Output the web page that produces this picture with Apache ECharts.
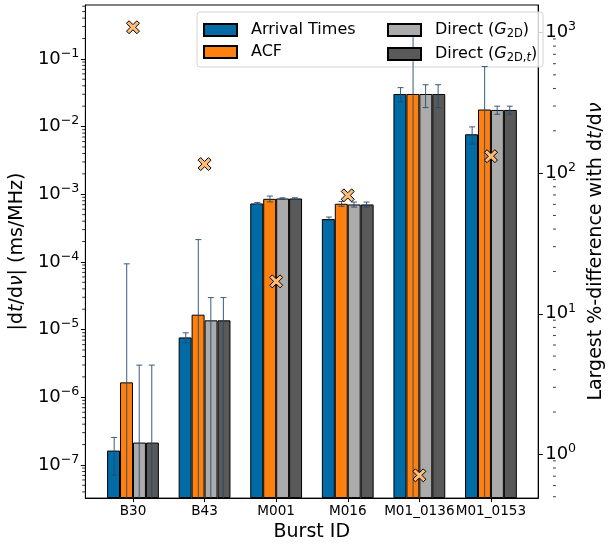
<!DOCTYPE html>
<html>
<head>
<meta charset="utf-8">
<script src="https://cdn.jsdelivr.net/npm/echarts@6/dist/echarts.min.js"></script>
<style>
  html, body { margin: 0; padding: 0; background: #fff; }
  #chart { width: 614px; height: 547px; }
</style>
</head>
<body>
<div id="chart"></div>
<script>
// Burst IDs along the x axis
const bursts = ['B30', 'B43', 'M001', 'M016', 'M01_0136', 'M01_0153'];

// |dt/dν| (ms/MHz) per method, with 1σ uncertainties
const arrivalTimes = [1.63e-7, 7.66e-6, 7.31e-4, 4.30e-4, 0.0303, 0.00769];
const arrivalErr   = [9.2e-8, 1.3e-6, 2.5e-5, 3.0e-5, 0.0073, 0.0022];
const acf          = [1.66e-6, 1.66e-5, 8.55e-4, 7.23e-4, 0.0303, 0.01786];
const acfErr       = [9.2e-5, 1.97e-4, 8.5e-5, 6.0e-5, 0.269, 0.0592];
const direct2D     = [2.14e-7, 1.37e-5, 8.65e-4, 7.06e-4, 0.0303, 0.0176];
const direct2DErr  = [2.77e-6, 1.6e-5, 2.0e-5, 6.0e-5, 0.0112, 0.0024];
const direct2Dt    = [2.14e-7, 1.37e-5, 8.65e-4, 7.06e-4, 0.0303, 0.0176];
const direct2DtErr = [2.77e-6, 1.6e-5, 2.0e-5, 6.0e-5, 0.0112, 0.0024];

// Largest %-difference between methods (right axis)
const pctDiff = [1090, 116, 17.0, 69.5, 0.71, 132];

// Axis tick labels
const leftTicks = [1e-7, 1e-6, 1e-5, 1e-4, 1e-3, 1e-2, 1e-1];
const rightTicks = [1, 10, 100, 1000];

const seriesNames = ['Arrival Times', 'ACF', 'Direct (G2D)', 'Direct (G2D,t)'];
const seriesColors = ['#006BA4', '#FF800E', '#ABABAB', '#595959'];
const seriesValues = [arrivalTimes, acf, direct2D, direct2Dt];
const seriesErrors = [arrivalErr, acfErr, direct2DErr, direct2DtErr];

// layout
const GRID = { left: 85, top: 5, width: 468, height: 497 };
const X_MIN = -0.665, X_MAX = 5.66;
const BAR_UNITS = 0.175;
const barPx = BAR_UNITS * GRID.width / (X_MAX - X_MIN);
const Y_MIN = 3.236e-8, Y_MAX = 0.6253;
const Y2_MIN = 0.489, Y2_MAX = 1569;

// minor tick values 2..9 × 10^n inside [lo, hi]
function minorTicks(lo, hi) {
  const out = [];
  for (let e = Math.floor(Math.log10(lo)); e <= Math.ceil(Math.log10(hi)); e++) {
    for (let k = 2; k <= 9; k++) {
      const v = k * Math.pow(10, e);
      if (v >= lo && v <= hi) out.push(v);
    }
  }
  return out;
}

function powLabel(v) {
  const e = Math.round(Math.log10(v));
  return '{b|10}{s|' + (e < 0 ? '\u2212' : '') + Math.abs(e) + '}';
}
const powRich = {
  b: { fontSize: 18, lineHeight: 24, color: '#000', fontFamily: 'DejaVu Sans' },
  s: { fontSize: 12.6, lineHeight: 17, verticalAlign: 'top', color: '#000', fontFamily: 'DejaVu Sans' }
};

const legendLabels = {
  'Arrival Times': '{n|Arrival Times}',
  'ACF': '{n|ACF}',
  'Direct (G2D)': '{n|Direct (}{i|G}{sub|2D}{n|)}',
  'Direct (G2D,t)': '{n|Direct (}{i|G}{sub|2D,}{subi|t}{n|)}'
};
const legendRich = {
  n: { fontSize: 16, lineHeight: 20, color: '#000', fontFamily: 'DejaVu Sans' },
  i: { fontSize: 16, lineHeight: 20, color: '#000', fontStyle: 'italic', fontFamily: 'DejaVu Sans' },
  sub: { fontSize: 11.5, lineHeight: 12, verticalAlign: 'bottom', color: '#000', fontFamily: 'DejaVu Sans' },
  subi: { fontSize: 11.5, lineHeight: 12, verticalAlign: 'bottom', fontStyle: 'italic', color: '#000', fontFamily: 'DejaVu Sans' }
};

function legendOpt(names, left) {
  return {
    data: names.map(n => ({ name: n, icon: 'rect' })),
    orient: 'vertical',
    left: left, top: 22,
    itemWidth: 33, itemHeight: 12, itemGap: 6,
    padding: 0,
    selectedMode: false,
    formatter: name => legendLabels[name],
    textStyle: { padding: [0, 0, 0, 9], rich: legendRich }
  };
}

const barSeries = seriesNames.map((name, k) => ({
  name: name,
  type: 'bar',
  xAxisIndex: 0, yAxisIndex: 0,
  barWidth: barPx,
  barGap: '0%',
  data: seriesValues[k].map((v, i) => [i, v]),
  itemStyle: { color: seriesColors[k], borderColor: '#000', borderWidth: 1 },
  emphasis: { disabled: true },
  z: 2
}));

const errData = [];
seriesValues.forEach((vals, k) => vals.forEach((v, i) => errData.push([i, k, v, seriesErrors[k][i]])));

const errSeries = {
  type: 'custom',
  xAxisIndex: 0, yAxisIndex: 0,
  clip: true,
  z: 3,
  encode: { x: 0, y: 2 },
  data: errData,
  renderItem: function (params, api) {
    const cat = api.value(0), k = api.value(1), v = api.value(2), e = api.value(3);
    const p0 = api.coord([cat, v]);
    const w = api.coord([cat + BAR_UNITS, v])[0] - p0[0];
    const x = p0[0] + (k - 1.5) * w;
    const cs = params.coordSys;
    const yTop = api.coord([cat, v + e])[1];
    const lo = v - e;
    const yBot = lo > 0 ? api.coord([cat, lo])[1] : cs.y + cs.height + 2;
    const st = { stroke: '#244a70', lineWidth: 1, opacity: 0.9 };
    const kids = [
      { type: 'line', shape: { x1: x, y1: yTop, x2: x, y2: yBot }, style: st },
      { type: 'line', shape: { x1: x - 3, y1: yTop, x2: x + 3, y2: yTop }, style: st }
    ];
    if (lo > 0) kids.push({ type: 'line', shape: { x1: x - 3, y1: yBot, x2: x + 3, y2: yBot }, style: st });
    return { type: 'group', children: kids };
  }
};

const markerSeries = {
  type: 'scatter',
  xAxisIndex: 0, yAxisIndex: 1,
  data: pctDiff.map((v, i) => [i, v]),
  symbol: 'path://M20 0L50 30L80 0L100 20L70 50L100 80L80 100L50 70L20 100L0 80L30 50L0 20Z',
  symbolSize: 13,
  itemStyle: { color: '#FFBC79', borderColor: '#000', borderWidth: 1, opacity: 1 },
  emphasis: { disabled: true },
  z: 10
};

const axisNameStyle = { fontSize: 19, color: '#000', fontFamily: 'DejaVu Sans' };
const nameRich = {
  n: { fontSize: 19, color: '#000', fontFamily: 'DejaVu Sans' },
  i: { fontSize: 19, color: '#000', fontStyle: 'italic', fontFamily: 'DejaVu Sans' }
};

const axisLine = { show: true, onZero: false, lineStyle: { color: '#000', width: 1 } };

const legendFrame = {
  type: 'rect', z: 3,
  shape: { x: 197, y: 12, width: 346, height: 55, r: 3 },
  style: { fill: 'rgba(255,255,255,0.8)', stroke: '#d4d4d4', lineWidth: 1 }
};

const chart = echarts.init(document.getElementById('chart'), null, { renderer: 'canvas' });
chart.setOption({
  animation: false,
  backgroundColor: '#fff',
  textStyle: { fontFamily: 'DejaVu Sans' },
  grid: Object.assign({ show: true, borderColor: '#000', borderWidth: 1, backgroundColor: 'transparent' }, GRID),
  legend: [
    legendOpt(['Arrival Times', 'ACF'], 203),
    legendOpt(['Direct (G2D)', 'Direct (G2D,t)'], 387)
  ],
  graphic: [legendFrame],
  xAxis: [{
    type: 'value', min: X_MIN, max: X_MAX,
    name: 'Burst ID', nameLocation: 'middle', nameGap: 24, nameTextStyle: axisNameStyle,
    axisLine: axisLine,
    axisTick: { show: true, length: 4, customValues: [0, 1, 2, 3, 4, 5], lineStyle: { color: '#000' } },
    axisLabel: { customValues: [0, 1, 2, 3, 4, 5], formatter: v => bursts[Math.round(v)] || '',
                 fontSize: 13.6, color: '#000', margin: 6, hideOverlap: false,
                 showMinLabel: true, showMaxLabel: true },
    splitLine: { show: false }
  }],
  yAxis: [{
    type: 'log', position: 'left', min: Y_MIN, max: Y_MAX, startValue: Y_MIN,
    name: '{n||d}{i|t}{n|/d}{i|\u03bd}{n|| (ms/MHz)}', nameLocation: 'middle', nameGap: 56, nameRotate: 90,
    nameTextStyle: { rich: nameRich },
    axisLine: axisLine,
    axisTick: { show: true, length: 4.5, customValues: leftTicks, lineStyle: { color: '#000' } },
    axisLabel: { customValues: leftTicks, formatter: powLabel, rich: powRich, margin: 6 },
    splitLine: { show: false }
  }, {
    type: 'log', position: 'right', min: Y2_MIN, max: Y2_MAX,
    name: '{n|Largest %-difference with d}{i|t}{n|/d}{i|\u03bd}', nameLocation: 'middle', nameGap: 42, nameRotate: 90,
    nameTextStyle: { rich: nameRich },
    axisLine: axisLine,
    axisTick: { show: true, length: 4.5, customValues: rightTicks, lineStyle: { color: '#000' } },
    axisLabel: { customValues: rightTicks, formatter: powLabel, rich: powRich, margin: 7 },
    splitLine: { show: false }
  }],
  series: barSeries.concat([errSeries, markerSeries])
});

// minor ticks on both log axes, placed through the axes' own scales
const minorStyle = { stroke: '#000', lineWidth: 0.8 };
const minorEls = [];
const xL = GRID.left, xR = GRID.left + GRID.width;
minorTicks(Y_MIN, Y_MAX).forEach(v => {
  const y = chart.convertToPixel({ yAxisIndex: 0 }, v);
  minorEls.push({ type: 'line', z: 5, shape: { x1: xL - 2.8, y1: y, x2: xL, y2: y }, style: minorStyle });
});
minorTicks(Y2_MIN, Y2_MAX).forEach(v => {
  const y = chart.convertToPixel({ yAxisIndex: 1 }, v);
  minorEls.push({ type: 'line', z: 5, shape: { x1: xR, y1: y, x2: xR + 2.8, y2: y }, style: minorStyle });
});
chart.setOption({ graphic: [legendFrame].concat(minorEls) });
</script>
</body>
</html>
